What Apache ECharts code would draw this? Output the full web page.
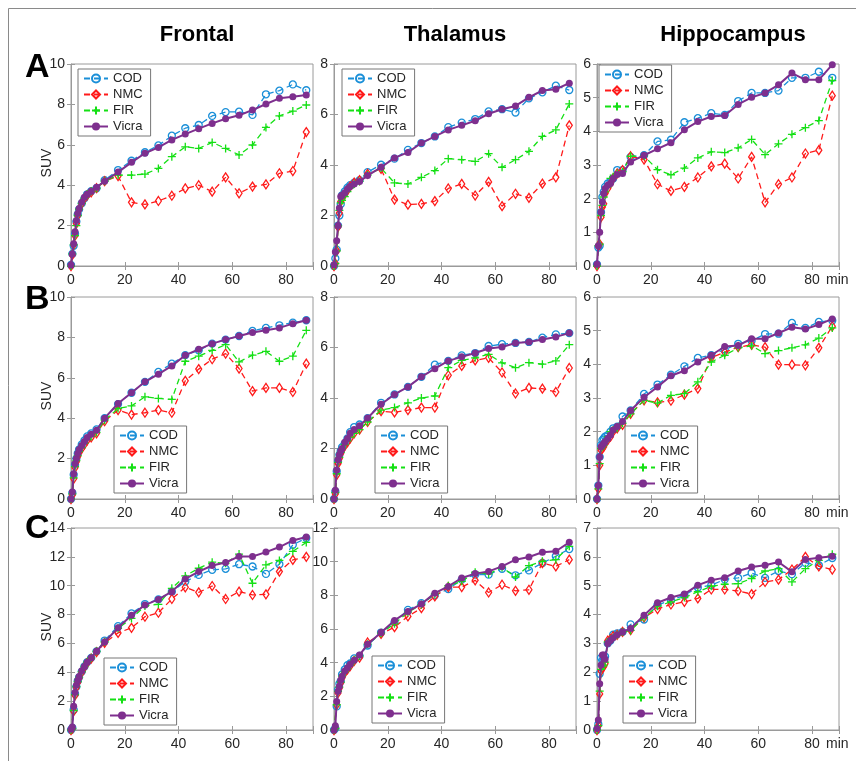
<!DOCTYPE html>
<html><head><meta charset="utf-8">
<script src="https://cdn.jsdelivr.net/npm/echarts@6/dist/echarts.min.js"></script>
<style>html,body{margin:0;padding:0;background:#fff}#c{width:856px;height:761px}</style>
</head><body><div id="c"></div>
<script>
// time points (min)
const X = [0,0.5,1,1.5,2,2.5,3,4,5,6,7.5,9.5,12.5,17.5,22.5,27.5,32.5,37.5,42.5,47.5,52.5,57.5,62.5,67.5,72.5,77.5,82.5,87.5];
const regions = ["Frontal","Thalamus","Hippocampus"];
const rowLetters = ["A","B","C"];
const seriesNames = ["COD","NMC","FIR","Vicra"];
const xTicks = [0,20,40,60,80];

// Row A
const A_Frontal_COD   = [0.05,0.6,1.0,1.6,2.2,2.55,2.8,3.1,3.35,3.55,3.7,3.85,4.25,4.75,5.21,5.63,5.97,6.45,6.82,6.98,7.43,7.62,7.64,7.48,8.5,8.68,8.99,8.7];
const A_Frontal_NMC   = [0,0.55,1.05,1.5,2.1,2.5,2.8,3.1,3.35,3.5,3.65,3.85,4.2,4.45,3.15,3.05,3.22,3.48,3.84,4.0,3.68,4.39,3.6,3.93,4.04,4.59,4.7,6.63];
const A_Frontal_FIR   = [0,0.6,1.05,1.5,2.0,2.5,2.8,3.1,3.35,3.55,3.7,3.85,4.2,4.5,4.5,4.55,4.83,5.41,5.9,5.82,6.12,5.82,5.5,5.99,6.86,7.43,7.67,7.97];
const A_Frontal_Vicra = [0.05,0.6,1.1,1.7,2.25,2.6,2.85,3.15,3.4,3.55,3.7,3.9,4.2,4.65,5.13,5.58,5.87,6.24,6.53,6.8,7.06,7.29,7.46,7.72,8.02,8.3,8.38,8.47];

const A_Thalamus_COD   = [0,0.3,0.65,1.6,2.0,2.45,2.8,2.95,3.1,3.2,3.3,3.4,3.72,4.01,4.25,4.6,4.87,5.13,5.5,5.68,5.82,6.12,6.21,6.08,6.64,6.88,7.14,6.97];
const A_Thalamus_NMC   = [0,0.1,0.6,1.55,2.1,2.55,2.7,2.85,3.0,3.15,3.3,3.4,3.65,3.85,2.63,2.43,2.46,2.57,3.07,3.25,2.79,3.33,2.37,2.86,2.7,3.26,3.51,5.57];
const A_Thalamus_FIR   = [0,0.1,0.6,1.6,2.2,2.5,2.6,2.75,2.95,3.1,3.25,3.35,3.6,3.88,3.29,3.25,3.51,3.78,4.25,4.21,4.14,4.45,3.91,4.21,4.54,5.13,5.39,6.42];
const A_Thalamus_Vicra = [0.05,0.55,1.0,1.6,2.3,2.75,2.8,2.9,3.05,3.15,3.25,3.35,3.58,3.91,4.28,4.5,4.87,5.13,5.39,5.57,5.75,6.03,6.21,6.34,6.68,6.95,7.0,7.24];

const A_Hippocampus_COD   = [0.05,0.55,0.6,1.6,2.05,2.2,2.35,2.45,2.5,2.6,2.85,2.85,3.24,3.29,3.7,3.75,4.27,4.39,4.54,4.49,4.9,5.14,5.14,5.21,5.59,5.59,5.77,5.59];
const A_Hippocampus_NMC   = [0,0.6,0.65,1.45,1.75,1.85,2.15,2.3,2.45,2.6,2.75,2.85,3.26,3.16,2.43,2.23,2.35,2.63,2.96,3.04,2.6,3.24,1.89,2.43,2.63,3.34,3.44,5.06];
const A_Hippocampus_FIR   = [0,0.6,0.65,1.5,1.8,2.05,2.2,2.35,2.6,2.65,2.75,2.8,3.26,3.27,2.86,2.71,2.91,3.21,3.39,3.37,3.51,3.76,3.31,3.63,3.91,4.11,4.32,5.51];
const A_Hippocampus_Vicra = [0.05,0.6,1.0,1.6,1.9,2.15,2.3,2.4,2.45,2.6,2.72,2.75,3.09,3.29,3.48,3.66,4.05,4.29,4.44,4.47,4.8,5.01,5.14,5.38,5.73,5.53,5.53,5.98];

// Row B
const B_Frontal_COD   = [0,0.3,1.2,1.7,2.0,2.25,2.45,2.7,2.9,3.1,3.25,3.45,4.0,4.7,5.26,5.8,6.29,6.7,7.12,7.36,7.69,7.89,8.07,8.32,8.47,8.6,8.73,8.85];
const B_Frontal_NMC   = [0,0.2,1.0,1.55,1.85,2.1,2.3,2.5,2.7,2.9,3.05,3.25,3.85,4.4,4.18,4.27,4.4,4.27,5.85,6.43,6.92,7.2,6.46,5.34,5.5,5.5,5.3,6.7];
const B_Frontal_FIR   = [0,0.25,1.05,1.6,1.9,2.15,2.35,2.55,2.75,2.95,3.1,3.3,3.9,4.48,4.61,5.06,4.98,4.93,6.82,7.07,7.36,7.64,6.79,7.12,7.31,6.82,7.07,8.35];
const B_Frontal_Vicra = [0,0.35,1.25,1.75,2.0,2.25,2.45,2.65,2.85,3.05,3.2,3.4,4.0,4.73,5.26,5.8,6.18,6.59,7.12,7.41,7.69,7.89,8.07,8.24,8.35,8.47,8.68,8.85];

const B_Thalamus_COD   = [0,0.3,1.1,1.5,1.75,1.9,2.05,2.2,2.4,2.65,2.85,2.95,3.2,3.81,4.14,4.44,4.84,5.32,5.47,5.69,5.78,6.06,6.13,6.18,6.22,6.39,6.52,6.57];
const B_Thalamus_NMC   = [0,0.2,0.95,1.4,1.6,1.8,1.95,2.1,2.25,2.4,2.6,2.75,3.05,3.48,3.43,3.52,3.62,3.62,4.9,5.27,5.49,5.59,5.01,4.18,4.4,4.37,4.24,5.19];
const B_Thalamus_FIR   = [0,0.25,1.0,1.45,1.65,1.85,2.0,2.15,2.3,2.45,2.6,2.75,3.05,3.52,3.62,3.81,4.0,4.08,5.2,5.49,5.59,5.73,5.39,5.2,5.4,5.34,5.47,6.11];
const B_Thalamus_Vicra = [0,0.35,1.15,1.55,1.75,1.9,2.0,2.25,2.4,2.6,2.75,2.9,3.21,3.75,4.14,4.44,4.84,5.16,5.47,5.63,5.78,5.96,6.02,6.18,6.22,6.32,6.42,6.57];

const B_Hippocampus_COD   = [0,0.4,1.25,1.6,1.75,1.8,1.85,1.9,2.0,2.1,2.15,2.45,2.63,3.12,3.4,3.69,3.94,4.19,4.27,4.44,4.61,4.7,4.9,4.91,5.23,5.08,5.26,5.3];
const B_Hippocampus_NMC   = [0,0.3,1.0,1.45,1.5,1.55,1.65,1.75,1.85,2.0,2.1,2.2,2.53,2.93,2.87,2.92,3.1,3.28,4.2,4.36,4.51,4.58,4.51,3.99,3.99,3.97,4.49,5.13];
const B_Hippocampus_FIR   = [0,0.3,1.05,1.5,1.55,1.6,1.7,1.85,2.0,2.05,2.1,2.25,2.53,2.93,2.85,3.08,3.13,3.48,4.07,4.27,4.49,4.55,4.32,4.41,4.49,4.58,4.78,5.08];
const B_Hippocampus_Vicra = [0,0.4,1.25,1.55,1.6,1.65,1.7,1.8,1.9,2.05,2.15,2.3,2.63,3.02,3.33,3.66,3.81,4.07,4.27,4.53,4.56,4.76,4.76,4.93,5.1,5.05,5.18,5.35];

// Row C
const C_Frontal_COD   = [0,0.15,1.4,2.5,3.0,3.4,3.65,4.05,4.4,4.7,5.0,5.45,6.2,7.2,8.08,8.73,9.05,9.59,10.29,10.75,11.1,11.17,11.49,11.33,10.82,11.49,12.84,13.3];
const C_Frontal_NMC   = [0,0.1,1.3,2.4,2.95,3.3,3.6,4.0,4.35,4.65,4.95,5.4,6.04,6.73,7.08,7.85,8.13,9.08,9.89,9.54,9.98,9.08,9.59,9.36,9.4,10.98,11.79,12.0];
const C_Frontal_FIR   = [0,0.1,1.35,2.45,3.0,3.35,3.65,4.05,4.4,4.7,5.0,5.45,6.1,7.05,7.73,8.59,8.71,9.82,10.68,11.21,11.63,11.56,12.19,10.17,11.45,11.75,12.38,13.0];
const C_Frontal_Vicra = [0.05,0.2,1.65,2.6,3.1,3.45,3.7,4.1,4.4,4.7,5.0,5.45,6.1,7.08,7.96,8.66,9.05,9.59,10.47,10.98,11.4,11.61,12.03,12.03,12.33,12.68,13.14,13.37];

const C_Thalamus_COD   = [0,0.1,1.4,2.4,2.75,2.9,3.3,3.6,3.85,3.95,4.25,4.4,5.02,5.79,6.41,7.14,7.54,8.0,8.37,8.93,9.23,9.23,9.58,9.19,9.48,9.92,10.32,10.75];
const C_Thalamus_NMC   = [0,0.1,1.5,2.2,2.5,2.8,3.1,3.4,3.6,3.8,4.1,4.3,5.2,5.71,6.11,6.75,7.24,7.94,8.49,8.49,8.89,8.17,8.63,8.27,8.33,9.92,9.72,10.12];
const C_Thalamus_FIR   = [0,0.1,1.5,2.3,2.55,2.85,3.2,3.45,3.65,3.85,4.15,4.4,5.1,5.75,6.31,7.0,7.45,8.08,8.57,8.83,9.37,9.27,9.66,9.09,9.76,10.02,10.12,10.91];
const C_Thalamus_Vicra = [0,0.25,1.7,2.3,2.6,2.95,3.2,3.5,3.7,3.9,4.15,4.45,5.1,5.79,6.51,7.04,7.48,8.13,8.53,9.03,9.29,9.42,9.72,10.12,10.28,10.56,10.62,11.15];

const C_Hippocampus_COD   = [0,0.2,1.95,2.5,2.4,2.5,2.55,3.0,3.1,3.3,3.35,3.4,3.66,3.83,4.33,4.5,4.67,4.94,5.02,5.22,5.27,5.44,5.27,5.51,5.4,5.79,5.71,5.96];
const C_Hippocampus_NMC   = [0,0.15,1.25,2.05,2.15,2.2,2.3,3.1,3.15,3.25,3.3,3.4,3.46,3.9,4.19,4.35,4.44,4.56,4.87,4.87,4.82,4.71,5.13,5.21,5.56,6.0,5.67,5.56];
const C_Hippocampus_FIR   = [0,0.15,1.35,2.1,2.2,2.25,2.35,3.05,3.15,3.2,3.3,3.4,3.45,3.9,4.29,4.44,4.59,4.79,4.98,5.05,5.07,5.25,5.51,5.59,5.13,5.59,5.88,6.09];
const C_Hippocampus_Vicra = [0.05,0.35,1.6,2.25,2.6,2.6,2.45,3.0,3.1,3.2,3.3,3.4,3.52,3.98,4.41,4.59,4.71,5.02,5.19,5.28,5.51,5.65,5.71,5.82,5.48,5.91,5.97,6.02];

// y-axis ranges per panel (max, interval)
const yMaxA = [10, 8, 6], yStepA = [2, 2, 1];
const yMaxB = [10, 8, 6], yStepB = [2, 2, 1];
const yMaxC = [14, 12, 7], yStepC = [2, 2, 1];

const panelData = [
  [A_Frontal_COD, A_Frontal_NMC, A_Frontal_FIR, A_Frontal_Vicra],
  [A_Thalamus_COD, A_Thalamus_NMC, A_Thalamus_FIR, A_Thalamus_Vicra],
  [A_Hippocampus_COD, A_Hippocampus_NMC, A_Hippocampus_FIR, A_Hippocampus_Vicra],
  [B_Frontal_COD, B_Frontal_NMC, B_Frontal_FIR, B_Frontal_Vicra],
  [B_Thalamus_COD, B_Thalamus_NMC, B_Thalamus_FIR, B_Thalamus_Vicra],
  [B_Hippocampus_COD, B_Hippocampus_NMC, B_Hippocampus_FIR, B_Hippocampus_Vicra],
  [C_Frontal_COD, C_Frontal_NMC, C_Frontal_FIR, C_Frontal_Vicra],
  [C_Thalamus_COD, C_Thalamus_NMC, C_Thalamus_FIR, C_Thalamus_Vicra],
  [C_Hippocampus_COD, C_Hippocampus_NMC, C_Hippocampus_FIR, C_Hippocampus_Vicra]
];
const yMax = [].concat(yMaxA, yMaxB, yMaxC);
const yStep = [].concat(yStepA, yStepB, yStepC);

// layout
const FONT = '"Liberation Sans", Arial, Helvetica, sans-serif';
const colLeft = [71, 334, 597];
const rowTop = [64, 297, 528];
const plotW = 242, plotH = 202;
const legendPos = [
  [78,69],[342,69],[599,65],
  [114,426],[375,426],[625,426],
  [104,658],[372,656],[623,656]
];
const AX = '#9a9a9a', TXT = '#262626';
const styles = [
  {color:'#1a8fd8', symbol:'circle', size:7, dash:[6,4], width:1.3, fill:'rgba(0,0,0,0)'},
  {color:'#ff1a1a', symbol:'diamond', size:[6,9], dash:[6,4], width:1.3, fill:'rgba(0,0,0,0)'},
  {color:'#14e014', symbol:'path://M0,5L10,5M5,0L5,10', size:8, dash:[6,4], width:1.3, fill:'rgba(0,0,0,0)'},
  {color:'#7e2f8e', symbol:'circle', size:7, dash:'solid', width:2, fill:'#7e2f8e'}
];

const grid = [], xAxis = [], yAxis = [], series = [], legend = [];
for (let p = 0; p < 9; p++) {
  const r = Math.floor(p / 3), c = p % 3;
  grid.push({left: colLeft[c], top: rowTop[r], width: plotW, height: plotH,
    show: true, borderColor: AX, borderWidth: 1, backgroundColor: '#fff'});
  const common = {gridIndex: p, type: 'value', splitLine: {show: false}};
  xAxis.push(Object.assign({}, common, {min: 0, max: 90, interval: 20, position: 'bottom',
    axisLine: {show: true, lineStyle: {color: AX}},
    axisTick: {inside: true, length: 4, lineStyle: {color: AX}},
    axisLabel: {margin: 7, fontSize: 14, color: TXT, fontFamily: FONT,
      formatter: v => (xTicks.indexOf(v) >= 0 ? String(v) : '')}}));
  xAxis.push(Object.assign({}, common, {min: 0, max: 90, interval: 20, position: 'top',
    axisLine: {show: false}, axisTick: {inside: true, length: 4, lineStyle: {color: AX}},
    axisLabel: {show: false}}));
  yAxis.push(Object.assign({}, common, {min: 0, max: yMax[p], interval: yStep[p], position: 'left',
    axisLine: {show: true, lineStyle: {color: AX}},
    axisTick: {inside: true, length: 4, lineStyle: {color: AX}},
    axisLabel: {margin: 6, fontSize: 14, color: TXT, fontFamily: FONT}}));
  yAxis.push(Object.assign({}, common, {min: 0, max: yMax[p], interval: yStep[p], position: 'right',
    axisLine: {show: false}, axisTick: {inside: true, length: 4, lineStyle: {color: AX}},
    axisLabel: {show: false}}));
  for (let s = 0; s < 4; s++) {
    const st = styles[s];
    series.push({
      type: 'line', name: seriesNames[s], xAxisIndex: 2 * p, yAxisIndex: 2 * p,
      data: X.map((x, i) => [x, panelData[p][s][i]]),
      symbol: st.symbol, symbolSize: st.size, showAllSymbol: true, clip: false,
      itemStyle: {color: st.fill, borderColor: st.color, borderWidth: s === 3 ? 0 : 1.3},
      lineStyle: {color: st.color, width: st.width, type: st.dash},
      z: 2 + s, silent: true, animation: false, emphasis: {disabled: true}
    });
  }
  legend.push({
    orient: 'vertical', left: legendPos[p][0], top: legendPos[p][1],
    data: seriesNames, itemWidth: 24, itemHeight: 10, itemGap: 3,
    padding: [3, 8, 3, 5], borderColor: '#777', borderWidth: 1, backgroundColor: '#fff',
    selectedMode: false, textStyle: {fontSize: 13, color: TXT, fontFamily: FONT}
  });
}

const graphic = [
  {type: 'rect', shape: {x: 8.5, y: 8.5, width: 900, height: 900},
   style: {fill: 'none', stroke: '#8a8a8a', lineWidth: 1}, silent: true, z: -10}
];
const titleCenters = [197, 455, 733];
regions.forEach((t, i) => graphic.push({type: 'text', x: titleCenters[i], y: 35,
  style: {text: t, font: 'bold 22px ' + FONT, fill: '#000', textAlign: 'center', textVerticalAlign: 'middle'}}));
const letterY = [68, 300, 529];
rowLetters.forEach((t, i) => graphic.push({type: 'text', x: 25, y: letterY[i],
  style: {text: t, font: 'bold 34px ' + FONT, fill: '#000', textAlign: 'left', textVerticalAlign: 'middle'}}));
for (let r = 0; r < 3; r++) {
  graphic.push({type: 'text', x: 47, y: rowTop[r] + plotH / 2 - 2, rotation: Math.PI / 2,
    style: {text: 'SUV', font: '14px ' + FONT, fill: TXT, textAlign: 'center', textVerticalAlign: 'middle'}});
  graphic.push({type: 'text', x: 826, y: rowTop[r] + plotH + 14,
    style: {text: 'min', font: '14px ' + FONT, fill: TXT, textAlign: 'left', textVerticalAlign: 'middle'}});
}

const chart = echarts.init(document.getElementById('c'), null, {renderer: 'canvas'});
chart.setOption({animation: false, backgroundColor: '#fff', grid, xAxis, yAxis, series, legend, graphic});
</script></body></html>
